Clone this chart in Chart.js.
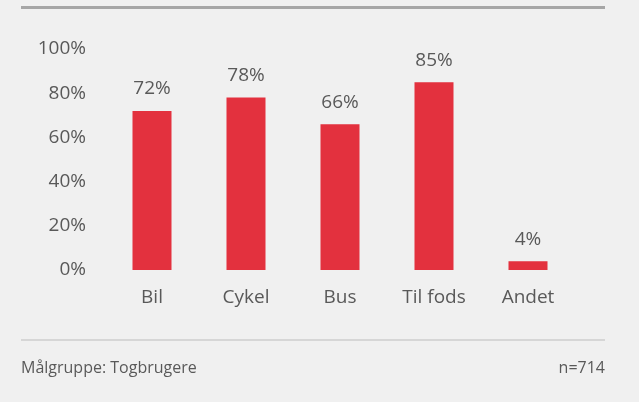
<!DOCTYPE html>
<html><head><meta charset="utf-8">
<script src="https://cdn.jsdelivr.net/npm/chart.js@4"></script>
<style>
html,body{margin:0;padding:0;background:#f0f0f0;width:639px;height:402px;overflow:hidden;font-family:"Open Sans",sans-serif;}
#wrap{position:relative;width:639px;height:402px;}
canvas{position:absolute;left:0;top:0;}
#topline{position:absolute;left:21px;top:6px;width:584px;height:3px;background:#a6a6a6;}
#botline{position:absolute;left:21px;top:339px;width:584px;height:2px;background:#d6d6d6;}
#foot1{position:absolute;left:21px;top:356px;font-size:16px;line-height:22px;color:#595959;}
#foot2{position:absolute;right:34px;top:356px;font-size:16px;line-height:22px;color:#595959;}
</style></head><body>
<div id="wrap">
<canvas id="c" width="639" height="402"></canvas>
<div id="topline"></div>
<div id="botline"></div>
<div id="foot1">Målgruppe: Togbrugere</div>
<div id="foot2">n=714</div>
</div>
<script>
const categories = ["Bil","Cykel","Bus","Til fods","Andet"];
const values = [72,78,66,85,4];
const tickValues = [0,20,40,60,80,100];

const labelPlugin = {
  id:'vals',
  afterDatasetsDraw(chart){
    const ctx = chart.ctx;
    const meta = chart.getDatasetMeta(0);
    ctx.save();
    ctx.font = '19px "Open Sans"';
    ctx.fillStyle = '#595959';
    ctx.textAlign = 'center';
    ctx.textBaseline = 'middle';
    meta.data.forEach((bar,i)=>{
      ctx.fillText(values[i]+'%', bar.x, bar.y-22);
    });
    ctx.restore();
  }
};

new Chart(document.getElementById('c'),{
  type:'bar',
  data:{labels:categories,datasets:[{data:values,backgroundColor:'#e3313e',borderWidth:0,barPercentage:0.83,categoryPercentage:0.5}]},
  options:{
    responsive:false,animation:false,
    layout:{padding:{left:0,right:64,top:49,bottom:82}},
    plugins:{legend:{display:false},tooltip:{enabled:false}},
    scales:{
      x:{grid:{display:false,drawTicks:false},border:{display:false},
         ticks:{color:'#595959',font:{family:'Open Sans',size:19},padding:16},
         afterFit(s){s.height=50;}},
      y:{min:0,max:100,grid:{display:false,drawTicks:false},border:{display:false},
         afterBuildTicks(s){s.ticks=tickValues.map(v=>({value:v}));},
         ticks:{color:'#595959',font:{family:'Open Sans',size:19},padding:19,callback:v=>v+'%'},
         afterFit(s){s.width=105;}}
    }
  },
  plugins:[labelPlugin]
});
</script>
</body></html>
